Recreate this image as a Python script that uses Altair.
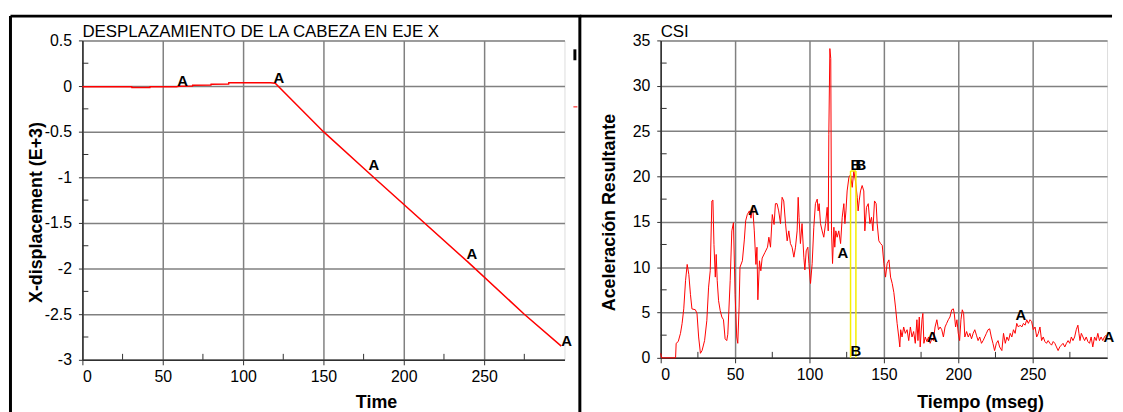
import altair as alt
import pandas as pd

FONT = "Liberation Sans"
GRID = "#808080"
DARK = "#303030"

# ---------------- data: left panel (head X displacement) ----------------
disp_t = [0, 30.7, 30.8, 42, 42.1, 58.6, 60, 68.5, 68.6, 80, 80.1, 91, 91.1, 117, 120,
          150, 180, 240, 275, 298]
disp_v = [-0.008, -0.008, -0.016, -0.016, -0.008, -0.008, -0.002, 0.0, 0.01, 0.012, 0.02,
          0.022, 0.035, 0.035, 0.03, -0.5, -0.98, -1.93, -2.5, -2.85]
disp_lab_t = [59, 119, 178, 239, 298]
disp_lab_v = [0.0, 0.03, -0.92, -1.89, -2.85]
left_title = "DESPLAZAMIENTO DE LA CABEZA EN EJE X"

# ---------------- data: right panel (CSI resultant acceleration) ----------------
csi_t = [0, 0.6, 10, 10.4, 11.8, 13.3, 14.4, 15.5, 16.7, 17.8, 18.9, 20, 21, 23.3, 24.4, 25.5,
         26.7, 27.8, 29.5, 31, 32.2, 33.3, 34.4, 35.1, 35.8, 36.7, 37.3, 38, 38.9, 40, 41.1,
         42.2, 43.3, 44.4, 45.1, 46.7, 47.8, 48.9, 50, 51.1, 51.8, 52.7, 53.3, 54.9, 56.2,
         57.1, 58.2, 59.6, 60.7, 61.8, 62.9, 64, 64.7, 65.3, 66.4, 67.3, 68.2, 70, 71.8, 72.7,
         73.8, 75, 76.2, 77.1, 78.2, 79.3, 80.5, 81.6, 82.7, 83.9, 85, 86.1, 87.2, 88.3, 89.5,
         90.6, 91.7, 92.4, 93, 93.9, 95, 96.2, 96.9, 97.8, 98.9, 99.6, 100.7, 101.8, 102.9,
         104, 105.2, 105.8, 106.5, 107.4, 108.5, 109.6, 110.8, 111.9, 112.6, 113, 113.7,
         114.3, 114.8, 115.5, 116.4, 117, 117.7, 118.6, 119.7, 120.9, 122, 123.1, 123.8,
         124.5, 125.3, 126.5, 127.6, 128.7, 129.8, 130.9, 132.1, 132.7, 133.4, 134.3, 135.4,
         136.5, 137.2, 138.3, 139.5, 140.6, 141.7, 142.6, 143.7, 144.8, 145.5, 146.6, 147.8,
         148.9, 150, 151.1, 152.2, 153.4, 154.5, 155.6, 156.7, 157.8, 158.9, 160, 160.7,
         161.3, 162.2, 163.3, 164.4, 165.6, 166.7, 167.8, 168.9, 170, 171.1, 172.2, 172.9,
         173.8, 174.4, 175.6, 176.2, 176.9, 177.8, 178.9, 180, 181.1, 182.2, 183.3, 184.4,
         185.6, 186.7, 187.8, 188.9, 190, 191.1, 192.2, 193.3, 194.4, 195.6, 196.7, 197.3,
         198.2, 199.1, 200, 200.9, 201.8, 202.7, 203.6, 204.4, 205.6, 206.7, 207.8, 208.9,
         210, 211.1, 212.2, 213.3, 214.4, 215.6, 216.7, 217.8, 218.9, 220, 221.1, 222.2,
         223.3, 224.4, 225.6, 226.7, 227.8, 229.3, 230.4, 231.6, 232.7, 233.8, 234.9, 236,
         237.1, 238.2, 239.3, 240.4, 241.6, 242.7, 243.8, 244.9, 246, 247.1, 248.2, 249.3,
         250.4, 251.6, 252.7, 253.8, 254.9, 256, 257.1, 258.2, 259.3, 260.4, 261.6, 262.7,
         263.8, 264.9, 266, 267.1, 268.2, 269.3, 270.4, 271.6, 272.7, 273.8, 274.9, 276,
         277.1, 278.2, 279.3, 280.4, 281.1, 281.8, 282.7, 283.8, 284.9, 286, 287.1, 288.2,
         289.3, 290.4, 291.6, 292.7, 293.8, 294.9, 296, 297.1, 298.2, 299.3]
csi_v = [0.5, 0, 0, 1.6, 1.8, 2.7, 3.8, 5.4, 8.5, 10.3, 9.2, 7.0, 5.4, 5.3, 4.9, 2.3,
         0.5, 0.8, 1.9, 4.1, 7.8, 9.6, 17.3, 17.4, 12.5, 8.9, 11.4, 8.5, 6.3, 5.2, 4.5,
         4.2, 2.1, 1.9, 2.6, 8.5, 14.0, 14.9, 7.0, 2.3, 1.6, 5.6, 10.0, 10.7, 13.0,
         15.1, 15.8, 16.2, 15.4, 16.7, 14.0, 10.3, 12.2, 6.4, 10.7, 9.6, 11.0, 11.6, 12.2, 13.3,
         12.2, 15.8, 14.7, 17.0, 17.0, 16.2, 14.8, 17.7, 17.3, 14.8, 12.9, 14.0, 12.6, 12.2, 11.1,
         12.2, 14.0, 17.7, 15.5, 12.6, 14.8, 11.1, 9.7, 11.8, 12.2, 10.4, 8.2, 10.4, 14.4,
         17.0, 17.5, 16.2, 17.0, 14.8, 14.0, 13.3, 14.8, 16.6, 14.0, 24.6, 34.1,
         33.0, 14.0, 10.4, 14.4, 12.2, 14.0, 13.3, 14.0, 12.6, 15.5, 17.0, 14.8,
         16.2, 18.4, 19.9, 20.2, 18.8, 20.6, 19.5, 17.7, 16.2, 17.3, 18.4, 19.0,
         18.4, 14.0, 16.6, 17.0, 14.8, 15.5, 14.0, 17.3, 17.0, 14.8, 12.9, 12.6,
         12.4, 10.4, 8.9, 10.4, 10.8, 8.9, 8.2, 7.2, 5.6, 3.8, 2.3, 1.2,
         3.1, 2.3, 3.4, 2.7, 3.1, 1.9, 3.4, 2.3, 2.9, 1.6, 4.2, 1.9,
         4.5, 1.2, 4.2, 4.9, 1.6, 2.3, 1.8, 2.3, 1.6, 2.1, 1.9, 3.4,
         4.2, 3.1, 3.4, 3.1, 2.3, 3.4, 3.8, 4.2, 4.5, 5.3, 5.4, 4.9,
         3.4, 4.2, 2.7, 1.9, 4.2, 5.3, 4.9, 2.3, 2.9, 2.3, 2.7, 2.1,
         2.7, 3.1, 2.5, 1.9, 2.3, 1.6, 1.9, 2.3, 2.7, 3.1, 3.2, 2.3,
         1.6, 0.8, 1.6, 1.9, 1.2, 0.8, 2.7, 1.6, 2.3, 1.9, 2.7, 2.3,
         3.1, 2.7, 3.8, 3.4, 3.6, 3.4, 3.8, 3.6, 4.2, 3.8, 4.2, 4.0,
         3.1, 3.4, 2.3, 2.7, 3.4, 1.9, 2.3, 1.8, 1.6, 1.9, 1.6, 1.4,
         1.8, 1.6, 1.2, 0.8, 1.2, 1.4, 1.6, 1.2, 1.6, 1.9, 1.6, 2.3,
         1.9, 2.3, 3.1, 3.6, 2.7, 1.9, 2.7, 2.3, 1.9, 2.3, 1.8, 1.6,
         2.3, 1.2, 2.3, 1.9, 2.7, 1.9, 2.3, 1.9, 2.3, 2.5]
csi_lab_t = [58.9, 118.9, 178.9, 238.4, 297.6]
csi_lab_v = [15.8, 11.0, 1.8, 4.2, 1.8]
b_line_t = [127.6, 131.2]
b_line_top = [20.6, 20.6]
b_lab_t = [127.6, 130.9, 127.6]
b_lab_v = [20.7, 20.7, 0.2]
right_title = "CSI"

# ---------------- ticks ----------------
x_ticks = [0, 50, 100, 150, 200, 250]
x_minor = [25, 75, 125, 175, 225, 275]
ly_ticks = [0.5, 0, -0.5, -1, -1.5, -2, -2.5, -3]
ly_minor = [0.25, -0.25, -0.75, -1.25, -1.75, -2.25, -2.75]
ry_ticks = [0, 5, 10, 15, 20, 25, 30, 35]
ry_minor = [2.5, 7.5, 12.5, 17.5, 22.5, 27.5, 32.5]

W1, H1 = 486, 322
W2, H2 = 450, 320


def x_axis(title, tx, ty):
    return alt.Axis(values=x_ticks, title=title, grid=True, gridColor=GRID, gridWidth=1.5,
                    domainColor=DARK, domainWidth=1.5, ticks=True, tickColor=DARK, tickSize=5,
                    labelFont=FONT, labelFontSize=16, labelColor="black", labelPadding=4,
                    labelExpr="toString(datum.value)",
                    titleFont=FONT, titleFontSize=18, titleFontWeight="bold", titleColor="black",
                    titleX=tx, titleY=ty, titleBaseline="alphabetic", titleAlign="center")


def y_axis(title, vals, tx, ty):
    return alt.Axis(values=vals, title=title, grid=True, gridColor=GRID, gridWidth=1.5,
                    domainColor=DARK, domainWidth=1.5, ticks=True, tickColor=DARK, tickSize=4,
                    labelFont=FONT, labelFontSize=16, labelColor="black", labelPadding=7,
                    labelExpr="toString(datum.value)",
                    titleFont=FONT, titleFontSize=18, titleFontWeight="bold", titleColor="black",
                    titleX=tx, titleY=ty, titleBaseline="alphabetic", titleAlign="center",
                    titleAngle=270)


one = pd.DataFrame({"k": [0]})


def frame(left_x, top_y, right_x, bottom_y):
    vert = alt.Chart(one).mark_rule(color="black", strokeWidth=3).encode(
        x=alt.value(left_x), y=alt.value(top_y), y2=alt.value(bottom_y))
    top = alt.Chart(one).mark_rule(color="black", strokeWidth=3).encode(
        x=alt.value(left_x), x2=alt.value(right_x), y=alt.value(top_y))
    return vert + top


def panel_title(text):
    return alt.Chart(pd.DataFrame({"s": [text]})).mark_text(
        align="left", baseline="alphabetic", font=FONT, fontSize=17, color="black").encode(
        x=alt.value(0), y=alt.value(-3), text="s:N")


# ---------------- left panel ----------------
xs1 = alt.Scale(domain=[0, 300], nice=False)
ys1 = alt.Scale(domain=[-3, 0.5], nice=False, zero=False)
xa1 = x_axis("Time", 296, 48)
ya1 = y_axis("X-displacement (E+3)", ly_ticks, -41, 173)

df_disp = pd.DataFrame({"t": disp_t, "v": disp_v})
df_dlab = pd.DataFrame({"t": disp_lab_t, "v": disp_lab_v, "lab": ["A"] * len(disp_lab_t)})

l_line = alt.Chart(df_disp).mark_line(color="#ff0000", strokeWidth=1.5).encode(
    x=alt.X("t:Q", scale=xs1, axis=xa1), y=alt.Y("v:Q", scale=ys1, axis=ya1))
l_text = alt.Chart(df_dlab).mark_text(align="left", baseline="alphabetic", font=FONT,
                                      fontSize=15, fontWeight="bold", color="black").encode(
    x=alt.X("t:Q", scale=xs1, axis=xa1), y=alt.Y("v:Q", scale=ys1, axis=ya1), text="lab:N")
l_xmin = alt.Chart(pd.DataFrame({"t": x_minor})).mark_rule(color=DARK, strokeWidth=1).encode(
    x=alt.X("t:Q", scale=xs1, axis=xa1), y=alt.value(H1), y2=alt.value(H1 - 6))
l_ymin = alt.Chart(pd.DataFrame({"v": ly_minor})).mark_rule(color=DARK, strokeWidth=1).encode(
    y=alt.Y("v:Q", scale=ys1, axis=ya1), x=alt.value(0), x2=alt.value(6))
l_art = alt.Chart(one).mark_rule(color="black", strokeWidth=3).encode(
    x=alt.value(W1 + 10.5), y=alt.value(9), y2=alt.value(20))
l_art2 = alt.Chart(one).mark_rule(color="#ff0000", strokeWidth=1).encode(
    x=alt.value(W1 + 9), x2=alt.value(W1 + 13), y=alt.value(67))

left = alt.layer(l_xmin, l_ymin, l_line, l_text, frame(-72.5, -24.5, W1 + 17, 380),
                 l_art, l_art2, panel_title(left_title)).properties(width=W1, height=H1)

# ---------------- right panel ----------------
xs2 = alt.Scale(domain=[0, 300], nice=False)
ys2 = alt.Scale(domain=[0, 35], nice=False)
xa2 = x_axis("Tiempo (mseg)", 322, 50)
ya2 = y_axis("Aceleración Resultante", ry_ticks, -47, 173)

df_csi = pd.DataFrame({"t": csi_t, "v": csi_v})
df_clab = pd.DataFrame({"t": csi_lab_t, "v": csi_lab_v, "lab": ["A"] * len(csi_lab_t)})
df_blab = pd.DataFrame({"t": b_lab_t, "v": b_lab_v, "lab": ["B"] * len(b_lab_t)})
df_bl = pd.DataFrame({"t": b_line_t, "v": b_line_top, "v0": [0, 0]})
df_btop = pd.DataFrame({"t": [b_line_t[0]], "t2": [b_line_t[1]], "v": [b_line_top[0]]})

r_line = alt.Chart(df_csi).mark_line(color="#ff0000", strokeWidth=1).encode(
    x=alt.X("t:Q", scale=xs2, axis=xa2), y=alt.Y("v:Q", scale=ys2, axis=ya2))
r_yel = alt.Chart(df_bl).mark_rule(color="#f5f000", strokeWidth=1.5).encode(
    x=alt.X("t:Q", scale=xs2, axis=xa2), y=alt.Y("v:Q", scale=ys2, axis=ya2), y2="v0:Q")
r_yel_top = alt.Chart(df_btop).mark_rule(color="#f5f000", strokeWidth=1.5).encode(
    x=alt.X("t:Q", scale=xs2, axis=xa2), x2="t2:Q", y=alt.Y("v:Q", scale=ys2, axis=ya2))
r_text = alt.Chart(df_clab).mark_text(align="left", baseline="alphabetic", font=FONT,
                                      fontSize=15, fontWeight="bold", color="black").encode(
    x=alt.X("t:Q", scale=xs2, axis=xa2), y=alt.Y("v:Q", scale=ys2, axis=ya2), text="lab:N")
r_btext = alt.Chart(df_blab).mark_text(align="left", baseline="alphabetic", font=FONT,
                                       fontSize=15, fontWeight="bold", color="black").encode(
    x=alt.X("t:Q", scale=xs2, axis=xa2), y=alt.Y("v:Q", scale=ys2, axis=ya2), text="lab:N")
r_xmin = alt.Chart(pd.DataFrame({"t": x_minor})).mark_rule(color=DARK, strokeWidth=1).encode(
    x=alt.X("t:Q", scale=xs2, axis=xa2), y=alt.value(H2), y2=alt.value(H2 - 6))
r_ymin = alt.Chart(pd.DataFrame({"v": ry_minor})).mark_rule(color=DARK, strokeWidth=1).encode(
    y=alt.Y("v:Q", scale=ys2, axis=ya2), x=alt.value(0), x2=alt.value(6))

right = alt.layer(r_xmin, r_ymin, r_line, r_yel, r_yel_top, r_text, r_btext,
                  frame(-81.5, -24.5, W2 + 5, 380), panel_title(right_title)).properties(
    width=W2, height=H2)

chart = alt.hconcat(left, right, spacing=97, bounds="flush").properties(
    padding={"left": 0, "top": 4, "right": 0, "bottom": 0}
).configure_view(stroke=GRID, strokeWidth=1.5).configure(background="white")

chart.save("out.html", embed_options={"renderer": "svg", "actions": False})
